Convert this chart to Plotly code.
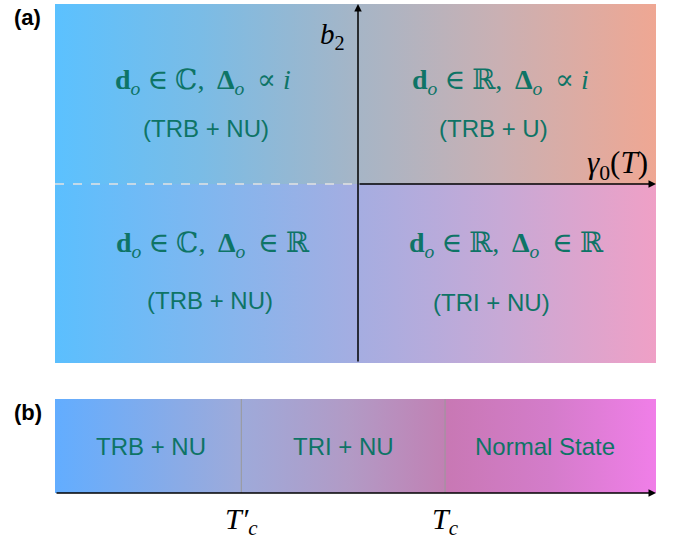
import plotly.graph_objects as go

# ---------------- data ----------------
SP = "\u2009"  # thin space for math-like spacing
# Panel (a): four regions of the (gamma0(T), b2) plane
quad_math = [
    f"<b>d</b><sub><i>o</i></sub> ∈ ℂ, {SP}<b>Δ</b><sub><i>o</i></sub>{SP} ∝ <i>i</i>",
    f"<b>d</b><sub><i>o</i></sub> ∈ ℝ, {SP}<b>Δ</b><sub><i>o</i></sub>{SP} ∝ <i>i</i>",
    f"<b>d</b><sub><i>o</i></sub> ∈ ℂ, {SP}<b>Δ</b><sub><i>o</i></sub>{SP} ∈ ℝ",
    f"<b>d</b><sub><i>o</i></sub> ∈ ℝ, {SP}<b>Δ</b><sub><i>o</i></sub>{SP} ∈ ℝ",
]
quad_sym = ["(TRB + NU)", "(TRB + U)", "(TRB + NU)", "(TRI + NU)"]
axis_labels_a = ["<i>b</i><sub>2</sub>", "<i>γ</i><sub>0</sub>(<i>T</i>)"]

# Panel (b): phases along temperature axis (normalised)
phase_labels_b = ["TRB + NU", "TRI + NU", "Normal State"]
T_transitions = [0.31, 0.649]          # T'_c, T_c
T_labels = ["<i>T′</i><sub><i>c</i></sub>", "<i>T</i><sub><i>c</i></sub>"]

# ---------------- layout helpers ----------------
W, H = 686, 548
PX_L, PX_R = 55, 656
A_TOP, A_BOT, A_ORIGIN_X, A_ORIGIN_Y = 4, 363, 358, 184
B_TOP, B_BOT = 399, 493

sx = 298.0   # px per unit (panel a, x)
sy = 180.0   # px per unit (panel a, y)
xL = -(A_ORIGIN_X - PX_L) / sx
xR = (PX_R - A_ORIGIN_X) / sx
yT = (A_ORIGIN_Y - A_TOP) / sy
yB = -(A_BOT - A_ORIGIN_Y) / sy

def fx(px):
    return (px - A_ORIGIN_X) / sx

def fy(py):
    return (A_ORIGIN_Y - py) / sy

def pos(px):
    return (px - PX_L) / (PX_R - PX_L)

TEAL = "#0E7466"
SERIF = "Liberation Serif, DejaVu Serif, serif"
SANS = "Liberation Sans, Arial, sans-serif"

fig = go.Figure()

top_scale = [[0, "#5BC1FF"], [pos(200), "#7ABCE6"], [pos(358), "#A6B5C6"],
             [pos(500), "#CAB0B3"], [1, "#EFA793"]]
bot_scale = [[0, "#5BBFFE"], [pos(200), "#7EB7F0"], [pos(358), "#A5ADE1"],
             [pos(500), "#C7A9D6"], [1, "#EFA0C6"]]
b_scale = [[0, "#62ADFF"], [pos(241), "#9EAADA"], [pos(350), "#B29AC5"],
           [pos(444), "#C181B4"], [pos(446), "#C878B4"], [pos(550), "#D47CCA"],
           [1, "#F07EE8"]]

fig.add_trace(go.Scatter(x=[xL, xR, xR, xL, xL], y=[0, 0, yT, yT, 0], fill="toself",
                         mode="lines", line=dict(width=0),
                         fillgradient=dict(type="horizontal", colorscale=top_scale),
                         hoverinfo="skip", showlegend=False, xaxis="x", yaxis="y"))
fig.add_trace(go.Scatter(x=[xL, xR, xR, xL, xL], y=[yB, yB, 0, 0, yB], fill="toself",
                         mode="lines", line=dict(width=0),
                         fillgradient=dict(type="horizontal", colorscale=bot_scale),
                         hoverinfo="skip", showlegend=False, xaxis="x", yaxis="y"))
fig.add_trace(go.Scatter(x=[0, 1, 1, 0, 0], y=[0, 0, 1, 1, 0], fill="toself",
                         mode="lines", line=dict(width=0),
                         fillgradient=dict(type="horizontal", colorscale=b_scale),
                         hoverinfo="skip", showlegend=False, xaxis="x2", yaxis="y2"))

shapes = []
shapes.append(dict(type="line", xref="x", yref="y", x0=xL, x1=0, y0=0, y1=0,
                   line=dict(color="#E2E2E2", width=1.5, dash="dash")))
for T in T_transitions:
    shapes.append(dict(type="line", xref="x2", yref="y2", x0=T, x1=T, y0=0, y1=1,
                       line=dict(color="#999999", width=1)))

ann = []
ann.append(dict(xref="x", yref="y", axref="x", ayref="y", x=0, y=yT, ax=0, ay=yB,
                text="", showarrow=True, arrowhead=2, arrowsize=1, arrowwidth=1.5,
                arrowcolor="black"))
ann.append(dict(xref="x", yref="y", axref="x", ayref="y", x=xR, y=0, ax=0, ay=0,
                text="", showarrow=True, arrowhead=2, arrowsize=1, arrowwidth=1.5,
                arrowcolor="black"))
ann.append(dict(xref="x2", yref="y2", axref="x2", ayref="y2", x=1, y=0, ax=0, ay=0,
                text="", showarrow=True, arrowhead=2, arrowsize=1, arrowwidth=1.5,
                arrowcolor="black"))

math_px = [(203, 81), (500, 81), (213, 244), (506, 244)]
sym_px = [(206, 128), (493, 128), (210, 300), (491, 302)]
for t, (px, py) in zip(quad_math, math_px):
    ann.append(dict(xref="x", yref="y", x=fx(px), y=fy(py), text=t, showarrow=False,
                    xanchor="center", yanchor="middle",
                    font=dict(family=SERIF, size=28, color=TEAL)))
for t, (px, py) in zip(quad_sym, sym_px):
    ann.append(dict(xref="x", yref="y", x=fx(px), y=fy(py), text=t, showarrow=False,
                    xanchor="center", yanchor="middle",
                    font=dict(family=SANS, size=24, color=TEAL)))

ann.append(dict(xref="x", yref="y", x=fx(332), y=fy(36), text=axis_labels_a[0],
                xanchor="center", yanchor="middle",
                showarrow=False, font=dict(family=SERIF, size=29, color="black")))
ann.append(dict(xref="x", yref="y", x=fx(617), y=fy(165), text=axis_labels_a[1],
                xanchor="center", yanchor="middle",
                showarrow=False, font=dict(family=SERIF, size=31, color="black")))

label_px_b = [151, 343, 545]
for lab, px in zip(phase_labels_b, label_px_b):
    ann.append(dict(xref="x2", yref="y2", x=pos(px), y=0.5,
                    text=lab, showarrow=False, xanchor="center", yanchor="middle",
                    font=dict(family=SANS, size=24, color=TEAL)))
for T, lab in zip(T_transitions, T_labels):
    ann.append(dict(xref="x2", yref="paper", x=T, y=1 - 521 / H, text=lab,
                    showarrow=False, xanchor="center", yanchor="middle",
                    font=dict(family=SERIF, size=30, color="black")))

ann.append(dict(xref="paper", yref="paper", x=28 / W, y=1 - 17 / H, text="<b>(a)</b>",
                showarrow=False, xanchor="center", yanchor="middle",
                font=dict(family=SANS, size=22, color="black")))
ann.append(dict(xref="paper", yref="paper", x=28 / W, y=1 - 412 / H, text="<b>(b)</b>",
                showarrow=False, xanchor="center", yanchor="middle",
                font=dict(family=SANS, size=22, color="black")))

noax = dict(visible=False, showgrid=False, zeroline=False, fixedrange=True)
fig.update_layout(
    width=W, height=H, margin=dict(l=0, r=0, t=0, b=0),
    paper_bgcolor="white", plot_bgcolor="rgba(0,0,0,0)",
    xaxis=dict(domain=[PX_L / W, PX_R / W], range=[xL, xR], **noax),
    yaxis=dict(domain=[1 - A_BOT / H, 1 - A_TOP / H], range=[yB, yT], **noax),
    xaxis2=dict(domain=[PX_L / W, PX_R / W], range=[0, 1], anchor="y2", **noax),
    yaxis2=dict(domain=[1 - B_BOT / H, 1 - B_TOP / H], range=[0, 1], anchor="x2", **noax),
    shapes=shapes, annotations=ann, showlegend=False,
)

fig.write_html("out.html", config={"displayModeBar": False},
               post_script="document.body.style.margin='0';")
